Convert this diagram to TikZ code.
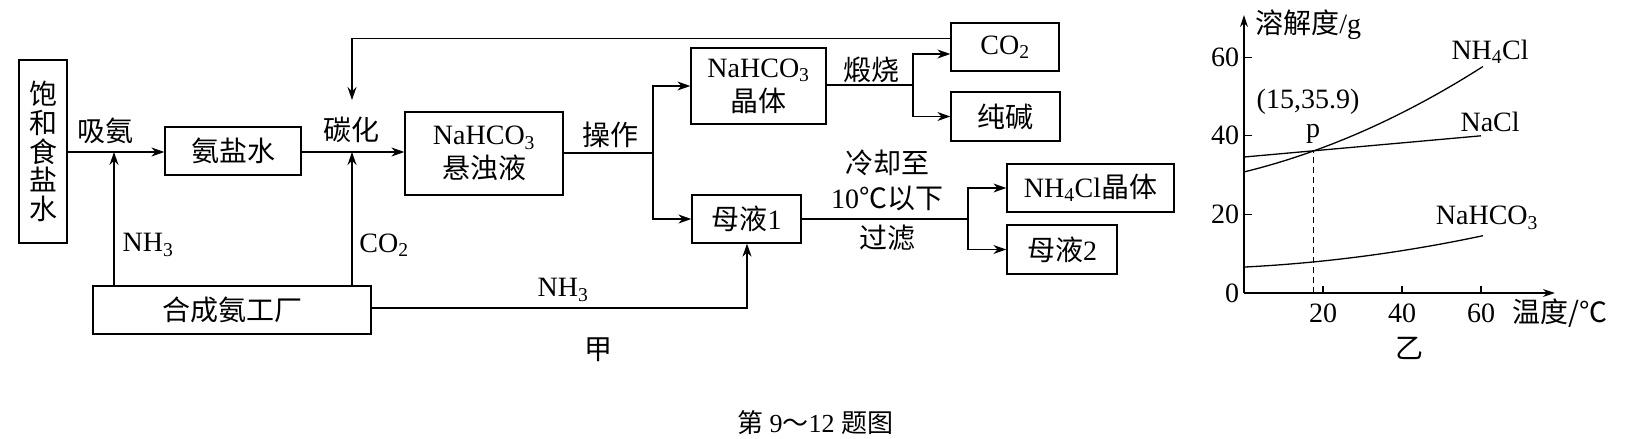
\documentclass[tikz,border=0pt]{standalone}
\usepackage{fontspec}
\setmainfont{Liberation Serif}
\newfontfamily\cjk{Noto Sans CJK SC}
\usetikzlibrary{arrows.meta,calc}
\newcommand{\zh}[1]{{\cjk #1}}
\begin{document}
\begin{tikzpicture}[x=1pt,y=-1pt,
  every node/.style={font=\fontsize{28}{34}\selectfont, inner sep=0pt},
  procbox/.style={draw, line width=1.3pt, align=center},
  flow/.style={line width=1.3pt, -{Stealth[length=13pt,width=9pt]}},
  plain/.style={line width=1.3pt},
  axisline/.style={line width=1.3pt, -{Stealth[length=12pt,width=8pt]}},
]
\useasboundingbox (0,0) rectangle (1644,439);

% process boxes
\node[procbox, minimum width=48pt, minimum height=183pt, font=\fontsize{28}{28.6}\selectfont\cjk] (sat) at (43,151.5) {饱\\和\\食\\盐\\水};
\node[procbox, minimum width=136pt, minimum height=48pt] (amm) at (233,151) {\zh{氨盐水}};
\node[procbox, minimum width=158pt, minimum height=83pt] (susp) at (484,153.5) {NaHCO\textsubscript{3}\\\zh{悬浊液}};
\node[procbox, minimum width=135pt, minimum height=76pt] (cry) at (758.5,86) {NaHCO\textsubscript{3}\\\zh{晶体}};
\node[procbox, minimum width=108pt, minimum height=48pt] (co2) at (1005,47) {CO\textsubscript{2}};
\node[procbox, minimum width=109pt, minimum height=49pt] (soda) at (1005.5,116.5) {\zh{纯碱}};
\node[procbox, minimum width=109pt, minimum height=48pt] (ml1) at (746.5,219) {\zh{母液}1};
\node[procbox, minimum width=167pt, minimum height=48pt] (nhc) at (1090.5,188) {NH\textsubscript{4}Cl\zh{晶体}};
\node[procbox, minimum width=110pt, minimum height=49pt] (ml2) at (1062,249.5) {\zh{母液}2};
\node[procbox, minimum width=278pt, minimum height=48pt] (plant) at (232,310) {\zh{合成氨工厂}};

% junction coordinates
\coordinate (j1) at (114,152);
\coordinate (j2) at (352,152);
\coordinate (fbt) at (352,38.5);
\coordinate (fbe) at (352,100);
\coordinate (s1) at (653,153);
\coordinate (s2) at (913,85);
\coordinate (s2t) at (913,54);
\coordinate (s3) at (968,219);
\coordinate (nh3c) at (747,308);

% connectors
\draw[flow] (sat.east |- j1) -- (amm.west |- j1);
\draw[flow] (plant.north -| j1) -- (j1);
\draw[flow] (amm.east |- j2) -- (susp.west |- j2);
\draw[flow] (plant.north -| j2) -- (j2);
\draw[flow] (co2.west |- fbt) -- (fbt) -- (fbe);
\draw[plain] (susp.east |- s1) -- (s1);
\draw[flow] (s1) |- (cry.west);
\draw[flow] (s1) |- (ml1.west);
\draw[plain] (cry.east |- s2) -- (s2);
\draw[flow] (s2) -- (s2t) -- (co2.west |- s2t);
\draw[flow] (s2) |- (soda.west);
\draw[plain] (ml1.east |- s3) -- (s3);
\draw[flow] (s3) |- (nhc.west);
\draw[flow] (s3) |- (ml2.west);
\draw[flow] (plant.east |- nh3c) -- (nh3c) -- (ml1.south -| nh3c);

% labels
\node (l1) at (105.5,131) {\zh{吸氨}};
\node (l2) at (148,245) {NH\textsubscript{3}};
\node (l3) at (351,130) {\zh{碳化}};
\node (l4) at (384,245) {CO\textsubscript{2}};
\node (l5) at (610,135) {\zh{操作}};
\node (l6) at (871,70) {\zh{煅烧}};
\node (l7) at (887,163) {\zh{冷却至}};
\node (l8) at (887,198) {10\zh{℃以下}};
\node (l9) at (887,238) {\zh{过滤}};
\node (l10) at (563,290) {NH\textsubscript{3}};
\node (l11) at (598,350) {\zh{甲}};
\node[font=\fontsize{26}{30}\selectfont] (cap) at (815,423) {\zh{第} 9\zh{～}12 \zh{题图}};

% solubility graph
\begin{scope}[shift={(1244,293)}, x=3.95pt, y=3.93pt]
  \coordinate (O) at (0,0);
  \coordinate (xe) at (78.7,0);
  \coordinate (ye) at (0,70.7);
  \draw[axisline] (O) -- (xe);
  \draw[axisline] (O) -- (ye);
  \foreach \v in {20,40,60} {
    \draw[plain] (0,\v) -- (2,\v);
    \draw[plain] (\v,0) -- (\v,1.8);
    \node[anchor=east] at (-1.2,\v) {\v};
    \node at (\v,-5.1) {\v};
  }
  \node[anchor=east] (zero) at (-1.2,0) {0};
  \node[anchor=west] (xl) at (67.9,-5.1) {\zh{温度/℃}};
  \node[anchor=west] (yl) at (2.8,68.2) {\zh{溶解度}/g};
  \node (yi) at (42,-14) {\zh{乙}};
  \draw[plain, domain=0:60.5, samples=50] plot (\x,{30.8+0.246*\x+0.00327*\x*\x});
  \draw[plain] (0,34.6) -- (60,40);
  \draw[plain, domain=0:60.5, samples=50] plot (\x,{6.6+0.0507*\x+0.00135*\x*\x});
  \draw[line width=1.2pt, dash pattern=on 6pt off 4pt] (17.5,0) -- (17.5,36.2);
  \node (cNH) at (62.3,61.3) {NH\textsubscript{4}Cl};
  \node (cNa) at (62.3,43.5) {NaCl};
  \node (cHC) at (61.5,19.1) {NaHCO\textsubscript{3}};
  \node (pt) at (16.2,48.6) {(15,35.9)};
  \node (pp) at (17.5,40.6) {p};
\end{scope}
\end{tikzpicture}
\end{document}
